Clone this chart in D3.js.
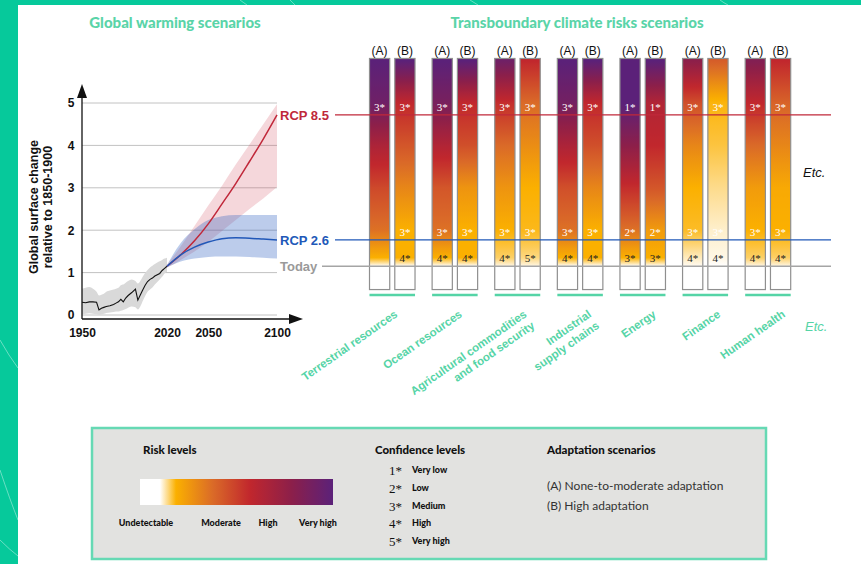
<!DOCTYPE html>
<html>
<head>
<meta charset="utf-8">
<script src="https://cdnjs.cloudflare.com/ajax/libs/d3/7.8.5/d3.min.js"></script>
<style>
  body { margin: 0; background: #fff; }
  svg { display: block; font-family: "Liberation Sans", Arial, sans-serif; }
  .title { font-family: Lato, "Open Sans", sans-serif; font-weight: 900; fill: #5ad4a8; font-size: 15px; }
  .tick text { font-weight: bold; font-size: 12px; fill: #111; }
  .axisTitle { font-weight: bold; font-size: 12.5px; fill: #111; }
  .scen { font-weight: bold; font-size: 13px; }
  .ab { font-size: 12px; fill: #111; }
  .conf { font-family: "Liberation Serif", "Times New Roman", serif; font-size: 11px; }
  .cstar { font-size: 13px; fill: #111; }
  .cat { font-weight: bold; font-size: 11.5px; fill: #55d4a6; }
  .legTitle { font-family: Lato, sans-serif; font-weight: 900; font-size: 11.5px; fill: #111; }
  .legSmall { font-family: Lato, sans-serif; font-weight: 900; font-size: 9px; fill: #111; }
  .legText { font-family: Lato, sans-serif; font-size: 12px; fill: #333; }
</style>
</head>
<body>
<script>
// ---- global warming scenarios ----
var histYears = [1950, 1953, 1956, 1959, 1962, 1964, 1966, 1968, 1970, 1973, 1976, 1978, 1980, 1982, 1984, 1986, 1988, 1991, 1994, 1996, 1998, 2000, 2002, 2004, 2006, 2008, 2010, 2012, 2014, 2016, 2018, 2020];
var histTemp  = [0.30, 0.29, 0.31, 0.31, 0.30, 0.12, 0.16, 0.18, 0.20, 0.22, 0.25, 0.28, 0.31, 0.37, 0.31, 0.40, 0.46, 0.53, 0.61, 0.35, 0.47, 0.59, 0.70, 0.79, 0.84, 0.87, 0.92, 0.95, 0.98, 1.05, 1.10, 1.15];
var histLow   = [0.02, 0.03, 0.04, 0.03, 0.02, 0.00, 0.01, 0.03, 0.05, 0.06, 0.07, 0.08, 0.08, 0.10, 0.12, 0.14, 0.17, 0.20, 0.18, 0.13, 0.20, 0.33, 0.45, 0.55, 0.60, 0.65, 0.72, 0.78, 0.84, 0.90, 0.98, 1.02];
var histHigh  = [0.62, 0.64, 0.66, 0.62, 0.55, 0.46, 0.48, 0.50, 0.55, 0.58, 0.60, 0.62, 0.64, 0.70, 0.72, 0.76, 0.80, 0.84, 0.80, 0.74, 0.80, 0.90, 0.99, 1.06, 1.12, 1.16, 1.20, 1.24, 1.27, 1.30, 1.33, 1.35];

var projYears = [2020, 2030, 2040, 2050, 2060, 2070, 2080, 2090, 2100];
var rcp85     = [1.15, 1.42, 1.75, 2.15, 2.62, 3.10, 3.62, 4.15, 4.72];
var rcp85Low  = [1.12, 1.30, 1.50, 1.73, 1.98, 2.24, 2.50, 2.75, 3.02];
var rcp85High = [1.18, 1.62, 2.10, 2.58, 3.05, 3.55, 4.02, 4.50, 4.97];
var rcp26     = [1.15, 1.42, 1.60, 1.72, 1.80, 1.82, 1.81, 1.79, 1.77];
var rcp26Low  = [1.12, 1.26, 1.33, 1.37, 1.38, 1.38, 1.37, 1.35, 1.33];
var rcp26High = [1.18, 1.70, 2.02, 2.24, 2.33, 2.36, 2.36, 2.36, 2.36];

var yTicks = [0, 1, 2, 3, 4, 5];
var xTicks = [1950, 2020, 2050, 2100];

// ---- transboundary risks ----
var sectors = ["Terrestrial resources", "Ocean resources", "Agricultural commodities and food security",
               "Industrial supply chains", "Energy", "Finance", "Human health"];
var sectorLines = [["Terrestrial resources"], ["Ocean resources"], ["Agricultural commodities", "and food security"],
                   ["Industrial", "supply chains"], ["Energy"], ["Finance"], ["Human health"]];
var scenarios = ["A", "B"];

// risk level (0 undetectable, 1 moderate, 2 high, 3 very high) at these warming levels
var riskTemps = [1.15, 1.35, 2, 3, 4, 5, 6];
var riskA = [
  [0, 1, 1.45, 1.75, 2.2, 2.8, 3],
  [0, 1, 1.45, 1.65, 2.15, 2.7, 3],
  [0.1, 0.6, 1.0, 1.2, 1.5, 1.95, 2.8],
  [0, 1, 1.45, 1.7, 2.2, 2.75, 3],
  [0, 1, 1.45, 1.95, 2.5, 3, 3],
  [0.05, 0.25, 0.85, 1.0, 1.3, 1.7, 2.5],
  [0.1, 0.6, 1.0, 1.15, 1.5, 2.0, 2.6]
];
var riskB = [
  [0, 1, 1.0, 1.3, 1.65, 2.0, 3],
  [0, 1, 1.0, 1.2, 1.7, 2.0, 3],
  [0.1, 0.5, 0.9, 1.0, 1.25, 1.5, 2.0],
  [0, 1, 1.0, 1.3, 1.7, 2.0, 3],
  [0, 1, 1.15, 1.65, 2.0, 2.15, 3],
  [0, 0.1, 0.2, 0.45, 0.75, 0.95, 1.6],
  [0.1, 0.6, 1.0, 1.05, 1.3, 1.55, 2.0]
];
// confidence at [RCP 8.5, RCP 2.6, today]
var confA = [[3, null, null], [3, 3, 4], [3, 3, 4], [3, 3, 4], [1, 2, 3], [3, 3, 4], [3, 3, 4]];
var confB = [[3, 3, 4], [3, 3, 4], [3, 3, 5], [3, 3, 4], [1, 2, 3], [3, 3, 4], [3, 3, 4]];

var riskLevels = ["Undetectable", "Moderate", "High", "Very high"];
var confLevels = ["Very low", "Low", "Medium", "High", "Very high"];
var adaptation = ["(A) None-to-moderate adaptation", "(B) High adaptation"];

var svg = d3.select("body").append("svg").attr("width", 861).attr("height", 564);
var defs = svg.append("defs");

// background frame
svg.append("rect").attr("width", 861).attr("height", 564).attr("fill", "#06c99b");
svg.append("rect").attr("x", 18).attr("y", 5).attr("width", 843).attr("height", 559).attr("fill", "#fff");
var deco = ["M0,340 Q9,356 18,368", "M0,470 Q10,500 18,520", "M0,540 Q10,550 18,556", "M240,0 Q244,3 247,5", "M290,0 Q293,3 295,5", "M470,0 L478,5", "M720,0 Q724,3 728,5"];
svg.selectAll("path.deco").data(deco).join("path").attr("class", "deco").attr("d", d => d)
  .attr("fill", "none").attr("stroke", "#fff").attr("stroke-opacity", 0.4).attr("stroke-width", 1);

// titles
svg.append("text").attr("class", "title").attr("x", 175).attr("y", 28).attr("text-anchor", "middle").text("Global warming scenarios");
svg.append("text").attr("class", "title").attr("x", 577).attr("y", 28).attr("text-anchor", "middle").text("Transboundary climate risks scenarios");

// ---- left chart ----
var x = d3.scaleLinear().domain([1950, 2020, 2100]).range([82, 167, 277]);
var y = d3.scaleLinear().domain([0, 5]).range([315, 103]);

svg.append("g").selectAll("line").data(yTicks).join("line")
  .attr("x1", 82).attr("x2", 277).attr("y1", d => y(d)).attr("y2", d => y(d))
  .attr("stroke", "#c2c2c2").attr("stroke-width", 1);

var histIdx = d3.range(histYears.length);
svg.append("path").datum(histIdx)
  .attr("d", d3.area().x(i => x(histYears[i])).y0(i => y(histLow[i])).y1(i => y(histHigh[i])).curve(d3.curveMonotoneX))
  .attr("fill", "#d9d9d9");
svg.append("path").datum(histIdx)
  .attr("d", d3.line().x(i => x(histYears[i])).y(i => y(histTemp[i])))
  .attr("fill", "none").attr("stroke", "#111").attr("stroke-width", 1.1);

var projIdx = d3.range(projYears.length);
function band(lo, hi) {
  return d3.area().x(i => x(projYears[i])).y0(i => y(lo[i])).y1(i => y(hi[i])).curve(d3.curveMonotoneX)(projIdx);
}
function line(v) {
  return d3.line().x(i => x(projYears[i])).y(i => y(v[i])).curve(d3.curveMonotoneX)(projIdx);
}
svg.append("path").attr("d", band(rcp85Low, rcp85High)).attr("fill", "#d04a5a").attr("fill-opacity", 0.22);
svg.append("path").attr("d", band(rcp26Low, rcp26High)).attr("fill", "#2f5fc0").attr("fill-opacity", 0.32);
svg.append("path").attr("d", line(rcp85)).attr("fill", "none").attr("stroke", "#c0283a").attr("stroke-width", 1.5);
svg.append("path").attr("d", line(rcp26)).attr("fill", "none").attr("stroke", "#2158b8").attr("stroke-width", 1.5);

// axes with arrows
svg.append("line").attr("x1", 82).attr("x2", 82).attr("y1", 319).attr("y2", 95).attr("stroke", "#111").attr("stroke-width", 1.3);
svg.append("path").attr("d", "M77,98 L82,84 L87,98 Z").attr("fill", "#111");
svg.append("line").attr("x1", 82).attr("x2", 292).attr("y1", 319).attr("y2", 319).attr("stroke", "#111").attr("stroke-width", 1.3);
svg.append("path").attr("d", "M289,314 L303,319 L289,324 Z").attr("fill", "#111");

var yAxis = svg.append("g").attr("transform", "translate(82,0)")
  .call(d3.axisLeft(y).tickValues(yTicks).tickSize(0).tickPadding(8).tickFormat(d3.format("d")));
yAxis.select(".domain").remove();
yAxis.selectAll("text").attr("text-anchor", "middle").attr("x", -11);
var xAxis = svg.append("g").attr("transform", "translate(0,319)")
  .call(d3.axisBottom(x).tickValues(xTicks).tickSize(0).tickPadding(9).tickFormat(d3.format("d")));
xAxis.select(".domain").remove();

svg.append("text").attr("class", "axisTitle").attr("transform", "translate(38,207) rotate(-90)")
  .attr("text-anchor", "middle").text("Global surface change");
svg.append("text").attr("class", "axisTitle").attr("transform", "translate(52,207) rotate(-90)")
  .attr("text-anchor", "middle").text("relative to 1850-1900");

// ---- risk bars ----
var riskColor = d3.scaleLinear().domain([0, 1, 1.5, 2, 2.5, 3])
  .range(["#ffffff", "#fbb000", "#da6a28", "#c1272d", "#8c1f4a", "#5b2179"]).clamp(true);

var xBand = d3.scaleBand().domain(sectors).range([369.5, 790.7]).paddingInner(0.273);
var xSub = d3.scaleBand().domain(scenarios).range([0, xBand.bandwidth()]).paddingInner(0.2);
var barTop = 6.05, barBottom = 0.6;
var scenLevels = [rcp85[rcp85.length - 1], rcp26[rcp26.length - 1], histTemp[histTemp.length - 1]];

var bars = [];
sectors.forEach(function (s, i) {
  bars.push({ sector: s, i: i, scen: "A", risk: riskA[i], conf: confA[i] });
  bars.push({ sector: s, i: i, scen: "B", risk: riskB[i], conf: confB[i] });
});

bars.forEach(function (b, k) {
  var lvl = d3.scaleLinear().domain(riskTemps).range(b.risk).clamp(true);
  var g = defs.append("linearGradient").attr("id", "grad" + k)
    .attr("gradientUnits", "userSpaceOnUse").attr("x1", 0).attr("x2", 0)
    .attr("y1", y(barTop)).attr("y2", y(riskTemps[0]));
  var y0 = y(barTop), y1 = y(riskTemps[0]);
  d3.range(barTop, riskTemps[0] - 0.001, -0.05).concat([riskTemps[0]]).forEach(function (t) {
    g.append("stop").attr("offset", (y(t) - y0) / (y1 - y0)).attr("stop-color", riskColor(lvl(t)));
  });
});

var barG = svg.append("g");
barG.selectAll("rect.fill").data(bars).join("rect").attr("class", "fill")
  .attr("x", d => xBand(d.sector) + xSub(d.scen)).attr("width", xSub.bandwidth())
  .attr("y", y(barTop)).attr("height", y(riskTemps[0]) - y(barTop))
  .attr("fill", (d, k) => "url(#grad" + k + ")");
barG.selectAll("rect.box").data(bars).join("rect").attr("class", "box")
  .attr("x", d => xBand(d.sector) + xSub(d.scen)).attr("width", xSub.bandwidth())
  .attr("y", y(barTop)).attr("height", y(barBottom) - y(barTop))
  .attr("fill", "none").attr("stroke", "#8f8f8f").attr("stroke-width", 1.2);
barG.selectAll("text.ab").data(bars).join("text").attr("class", "ab")
  .attr("x", d => xBand(d.sector) + xSub(d.scen) + xSub.bandwidth() / 2).attr("y", 55)
  .attr("text-anchor", "middle").text(d => "(" + d.scen + ")");

// scenario lines across
var scenLines = [
  { name: "RCP 8.5", v: scenLevels[0], color: "#c0283a", x0: 335 },
  { name: "RCP 2.6", v: scenLevels[1], color: "#2158b8", x0: 335 },
  { name: "Today", v: scenLevels[2], color: "#a5a5a5", x0: 322 }
];
svg.selectAll("line.scen").data(scenLines).join("line").attr("class", "scen")
  .attr("x1", d => d.x0).attr("x2", 831).attr("y1", d => y(d.v)).attr("y2", d => y(d.v))
  .attr("stroke", d => d.color).attr("stroke-width", 1.3);
svg.selectAll("text.scen").data(scenLines).join("text").attr("class", "scen")
  .attr("x", 280).attr("y", d => y(d.v) + 5).attr("fill", (d, i) => i === 2 ? "#9a9a9a" : d.color).text(d => d.name);

// confidence labels in bars
bars.forEach(function (b) {
  b.conf.forEach(function (c, j) {
    if (c == null) return;
    barG.append("text").attr("class", "conf")
      .attr("x", xBand(b.sector) + xSub(b.scen) + xSub.bandwidth() / 2)
      .attr("y", y(scenLevels[j]) - 4).attr("text-anchor", "middle")
      .attr("fill", j === 2 ? "#222" : "#fff").text(c + "*");
  });
});

// underlines + category labels
svg.selectAll("line.under").data(sectors).join("line").attr("class", "under")
  .attr("x1", d => xBand(d)).attr("x2", d => xBand(d) + xBand.bandwidth())
  .attr("y1", 295).attr("y2", 295).attr("stroke", "#55d4a6").attr("stroke-width", 2.5);
svg.selectAll("text.cat").data(sectors).join("text").attr("class", "cat")
  .attr("transform", (d, i) => "translate(" + (xBand(d) + xBand.bandwidth() / 2 + 6 + i * 2) + ",316) rotate(-35)")
  .attr("text-anchor", "end")
  .each(function (d, i) {
    d3.select(this).selectAll("tspan").data(sectorLines[i]).join("tspan")
      .attr("x", 0).attr("dy", (t, j) => j === 0 ? 0 : "1.2em").text(t => t);
  });
svg.append("text").attr("x", 803).attr("y", 177).attr("font-style", "italic").attr("font-size", 13).attr("fill", "#111").text("Etc.");
svg.append("text").attr("x", 805).attr("y", 331).attr("font-style", "italic").attr("font-size", 13).attr("fill", "#55d4a6").text("Etc.");

// ---- legend ----
svg.append("rect").attr("x", 92).attr("y", 428).attr("width", 674).attr("height", 131)
  .attr("fill", "#e2e2e0").attr("stroke", "#66d9b4").attr("stroke-width", 2.5);

svg.append("text").attr("class", "legTitle").attr("x", 143).attr("y", 454).text("Risk levels");
var legX = d3.scaleLinear().domain([0, 1, 2, 3]).range([160, 176, 250, 333]);
var lg = defs.append("linearGradient").attr("id", "legGrad").attr("gradientUnits", "userSpaceOnUse")
  .attr("x1", 140).attr("x2", 333).attr("y1", 0).attr("y2", 0);
lg.append("stop").attr("offset", 0).attr("stop-color", "#fff");
d3.range(0, 3.001, 0.1).forEach(function (l) {
  lg.append("stop").attr("offset", (legX(l) - 140) / 193).attr("stop-color", riskColor(l));
});
svg.append("rect").attr("x", 140).attr("y", 479).attr("width", 193).attr("height", 26).attr("fill", "url(#legGrad)");
var riskLabelX = [146, 221, 268, 318];
svg.selectAll("text.risk").data(riskLevels).join("text").attr("class", "legSmall risk")
  .attr("x", (d, i) => riskLabelX[i]).attr("y", 526).attr("text-anchor", "middle").text(d => d);

svg.append("text").attr("class", "legTitle").attr("x", 375).attr("y", 454).text("Confidence levels");
var confY = d3.scaleLinear().domain([0, 4]).range([475, 546]);
svg.selectAll("text.cstar").data(confLevels).join("text").attr("class", "conf cstar")
  .attr("x", 389).attr("y", (d, i) => confY(i)).text((d, i) => (i + 1) + "*");
svg.selectAll("text.clab").data(confLevels).join("text").attr("class", "legSmall clab")
  .attr("x", 412).attr("y", (d, i) => confY(i) - 2).text(d => d);

svg.append("text").attr("class", "legTitle").attr("x", 547).attr("y", 454).text("Adaptation scenarios");
svg.selectAll("text.adapt").data(adaptation).join("text").attr("class", "legText adapt")
  .attr("x", 547).attr("y", (d, i) => 490 + i * 20).text(d => d);
</script>
</body>
</html>
